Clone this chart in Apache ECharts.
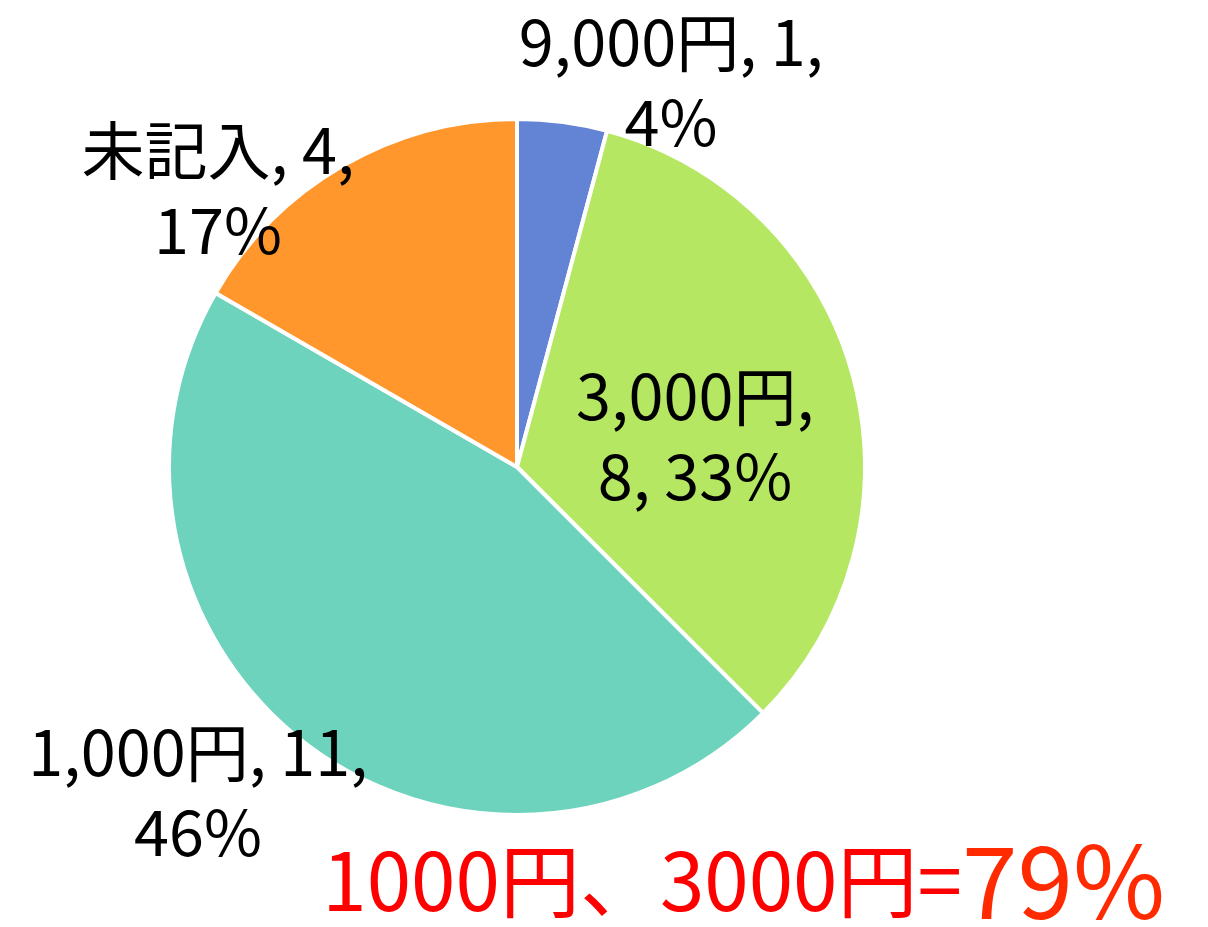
<!DOCTYPE html>
<html><head><meta charset="utf-8">
<script src="https://cdn.jsdelivr.net/npm/echarts@6/dist/echarts.min.js"></script>
<style>html,body{margin:0;padding:0;background:#fff}#c{width:1208px;height:927px}</style>
</head><body><div id="c"></div>
<script>
const categories = ['9,000円', '3,000円', '1,000円', '未記入'];
const counts = [1, 8, 11, 4];
const percents = ['4%', '33%', '46%', '17%'];
const colors = ['#6383D4', '#B5E763', '#6DD3BD', '#FF972C'];
const noteMain = '1000円、3000円=';
const noteValue = '79%';

const labelText = [
  c => c[0] + ', ' + c[1] + ',\n' + c[2],
  c => c[0] + ',\n' + c[1] + ', ' + c[2],
  c => c[0] + ', ' + c[1] + ',\n' + c[2],
  c => c[0] + ', ' + c[1] + ',\n' + c[2]
];
const labelPos = [[671, 82], [695, 436], [198, 792], [218, 190]];

const FONT = '"Noto Sans CJK JP", "Noto Sans", sans-serif';
const chart = echarts.init(document.getElementById('c'));
chart.setOption({
  animation: false,
  backgroundColor: '#fff',
  series: [{
    type: 'pie',
    center: [517, 467],
    radius: [0, 348],
    startAngle: 90,
    clockwise: true,
    itemStyle: { borderColor: '#fff', borderWidth: 4 },
    label: {
      show: true,
      position: 'inside',
      fontFamily: FONT,
      fontSize: 63,
      lineHeight: 80,
      color: '#000',
      align: 'center',
      overflow: 'none',
      formatter: p => labelText[p.dataIndex]([categories[p.dataIndex], counts[p.dataIndex], percents[p.dataIndex]])
    },
    labelLine: { show: false },
    labelLayout: p => ({ x: labelPos[p.dataIndex][0], y: labelPos[p.dataIndex][1], align: 'center', verticalAlign: 'middle' }),
    data: categories.map((c, i) => ({ name: c, value: counts[i], itemStyle: { color: colors[i] } }))
  }],
  graphic: [{
    type: 'text',
    right: 43,
    bottom: -4,
    style: {
      text: '{a|' + noteMain + '}{b|' + noteValue + '}',
      rich: {
        a: { fontFamily: FONT, fontSize: 80, fill: '#FF0000', color: '#FF0000' },
        b: { fontFamily: FONT, fontSize: 100, fill: '#FF2A00', color: '#FF2A00' }
      }
    }
  }]
});
</script></body></html>
